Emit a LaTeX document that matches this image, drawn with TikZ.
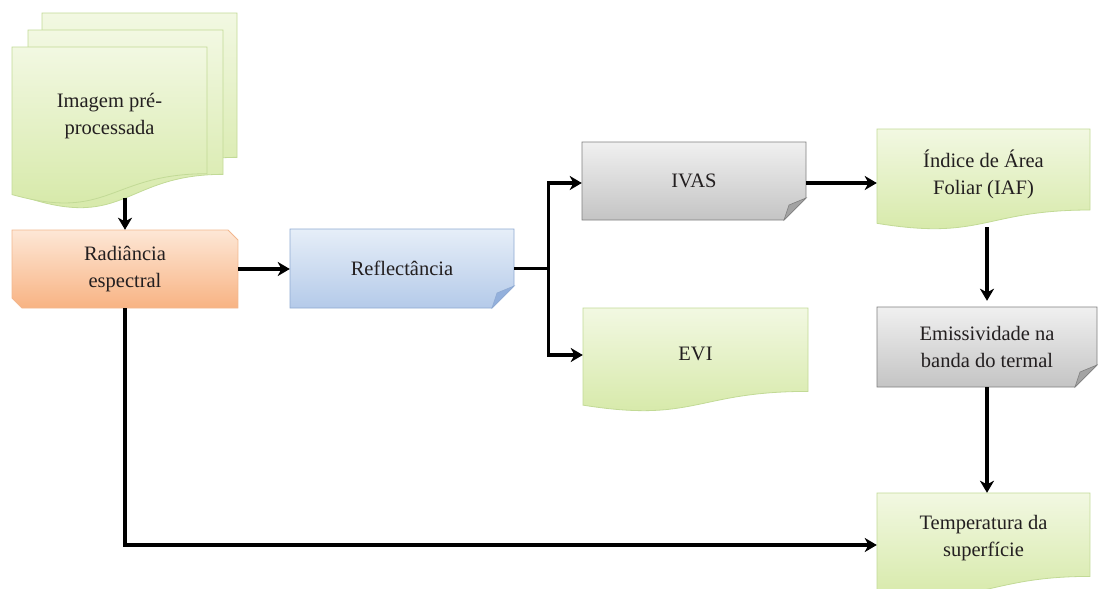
\documentclass[tikz,border=0pt]{standalone}
\usepackage{fontspec}
\setmainfont{Liberation Serif}
\usetikzlibrary{arrows.meta,calc}
\definecolor{gtop}{HTML}{F2F8E2}
\definecolor{gbot}{HTML}{D4E8A4}
\definecolor{gbor}{HTML}{C2DA96}
\definecolor{ytop}{HTML}{F0F0F0}
\definecolor{ybot}{HTML}{C4C4C4}
\definecolor{ybor}{HTML}{7F7F7F}
\definecolor{yfold}{HTML}{A3A3A3}
\definecolor{btop}{HTML}{E6EEF8}
\definecolor{bbot}{HTML}{B4CAE9}
\definecolor{bbor}{HTML}{8FAAD2}
\definecolor{bfold}{HTML}{93B0DC}
\definecolor{otop}{HTML}{FDE7D6}
\definecolor{obot}{HTML}{F8B383}
\definecolor{obor}{HTML}{F2B78E}
\definecolor{txt}{HTML}{231F20}
\newcommand{\docshape}[5]{\path[#5] (#1,#2) -- ({#1+#3},#2) -- ({#1+#3},{#2+0.802*#4}) .. controls ({#1+0.5*#3},{#2+0.802*#4}) and ({#1+0.5*#3},{#2+1.107*#4}) .. (#1,{#2+0.934*#4}) -- cycle;}
\newcommand{\foldshape}[6]{%
 \path[#5] (#1,#2) -- ({#1+#3},#2) -- ({#1+#3},{#2+#4-22}) -- ({#1+#3-22},{#2+#4}) -- (#1,{#2+#4}) -- cycle;
 \path[#6] ({#1+#3-22},{#2+#4}) .. controls ({#1+#3-19},{#2+#4-8}) .. ({#1+#3-17},{#2+#4-15}) .. controls ({#1+#3-8},{#2+#4-18}) .. ({#1+#3},{#2+#4-22}) -- cycle;}
\newcommand{\snipshape}[5]{\path[#5] (#1,#2) -- ({#1+#3-10},#2) -- ({#1+#3},{#2+10}) -- ({#1+#3},{#2+#4}) -- ({#1+10},{#2+#4}) -- (#1,{#2+#4-10}) -- cycle;}
\tikzset{
  greenfill/.style={draw=gbor, line width=0.8pt, top color=gtop, bottom color=gbot},
  grayfill/.style={draw=ybor, line width=0.8pt, top color=ytop, bottom color=ybot},
  grayfold/.style={draw=ybor, line width=0.6pt, fill=yfold},
  bluefill/.style={draw=bbor, line width=0.8pt, top color=btop, bottom color=bbot},
  bluefold/.style={draw=bbor, line width=0.6pt, fill=bfold},
  orangefill/.style={draw=obor, line width=0.8pt, top color=otop, bottom color=obot},
  lbl/.style={inner sep=0pt, align=center, text=txt},
  arr/.style={draw=black, line width=3.2pt, -{Stealth[length=12pt,width=14pt,inset=3.5pt]}},
  ln/.style={draw=black, line width=3.2pt}
}
\begin{document}
\begin{tikzpicture}[x=1pt,y=-1pt,font=\fontsize{20.5}{27}\selectfont]
\useasboundingbox (0,0) rectangle (1098,589);
% shapes
\docshape{42}{13}{195}{180}{greenfill}
\docshape{28}{30}{195}{180}{greenfill}
\docshape{12}{47}{195}{158}{greenfill}
\snipshape{12}{230}{226}{78}{orangefill}
\foldshape{290}{229}{224}{79}{bluefill}{bluefold}
\foldshape{582}{142}{224}{78}{grayfill}{grayfold}
\docshape{583}{308}{225}{104}{greenfill}
\docshape{877}{129}{213}{101}{greenfill}
\foldshape{877}{307}{220}{80}{grayfill}{grayfold}
\docshape{877}{493}{213}{104}{greenfill}
% nodes
\node[lbl, minimum width=195pt, minimum height=137pt] (doc) at (109.5,116) {Imagem pré-\\processada};
\node[lbl, minimum width=226pt, minimum height=78pt] (rad) at (125,269) {Radiância\\espectral};
\node[lbl, minimum width=224pt, minimum height=79pt] (refl) at (402,268.5) {Reflectância};
\node[lbl, minimum width=224pt, minimum height=78pt] (ivas) at (694,181) {IVAS};
\node[lbl, minimum width=225pt, minimum height=90pt] (evi) at (695.5,354) {EVI};
\node[lbl, minimum width=213pt, minimum height=88pt] (iaf) at (983.5,174) {Índice de Área\\Foliar (IAF)};
\node[lbl, minimum width=220pt, minimum height=80pt] (emis) at (987,347) {Emissividade na\\banda do termal};
\node[lbl, minimum width=213pt, minimum height=90pt] (temp) at (983.5,538) {Temperatura da\\superfície};
% connectors
\draw[arr] ([yshift=-13pt]doc.south -| rad.north) -- (rad.north);
\draw[arr] (rad.east) -- (rad.east -| refl.west);
\draw[ln] (refl.east) -- ++(34,0) coordinate (br);
\draw[arr] ([yshift=-1.6pt]br) |- ([yshift=-2pt]ivas.west);
\draw[arr] ([yshift=1.6pt]br) |- ([yshift=-1pt]evi.west);
\draw[arr] ([yshift=-2pt]ivas.east) -- ([yshift=-2pt]ivas.east -| iaf.west);
\draw[arr] ([yshift=-9pt]iaf.south -| emis.north) -- ([yshift=6pt]emis.north);
\draw[arr] (emis.south) -- (emis.south |- temp.north);
\draw[arr] (rad.south) |- ([yshift=-7pt]temp.west);
\end{tikzpicture}
\end{document}
